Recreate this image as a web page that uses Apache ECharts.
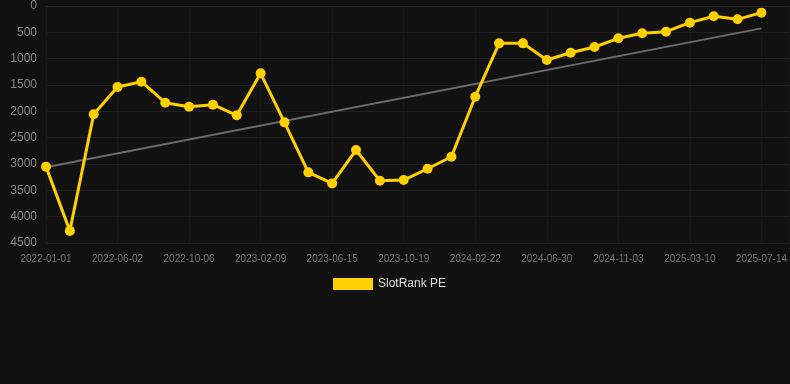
<!DOCTYPE html>
<html>
<head>
<meta charset="utf-8">
<script src="https://cdn.jsdelivr.net/npm/echarts@6/dist/echarts.min.js"></script>
<style>
html,body{margin:0;padding:0;background:#111111;}
#chart{width:790px;height:384px;}
</style>
</head>
<body>
<div id="chart"></div>
<script>
//日期
var dates = ['2022-01-01','2022-02-20','2022-04-12','2022-06-02','2022-07-14','2022-08-25','2022-10-06',
	'2022-11-17','2022-12-29','2023-02-09','2023-03-23','2023-05-04','2023-06-15','2023-07-27',
	'2023-09-07','2023-10-19','2023-11-30','2024-01-11','2024-02-22','2024-04-05','2024-05-18',
	'2024-06-30','2024-08-11','2024-09-22','2024-11-03','2024-12-15','2025-01-26','2025-03-10',
	'2025-04-21','2025-06-02','2025-07-14'];
//排名
var rankValues = [3050,4270,2057,1538,1437,1836,1912,1874,2076,1279,2209,3159,3368,2735,3317,3305,
	3090,2862,1722,709,709,1026,887,779,614,519,487,316,196,253,126];
//趋势线(首尾)
var trendStart = 3060, trendEnd = 425;
var yTicks = [0,500,1000,1500,2000,2500,3000,3500,4000,4500];

//组装数据 [序号, 值]
var rankData = [], trendData = [];
for(var i=0;i<rankValues.length;i++){
	rankData.push([i, rankValues[i]]);
}
trendData.push([0, trendStart]);
trendData.push([dates.length-1, trendEnd]);

var myChart = echarts.init(document.getElementById('chart'));
var option = {
	backgroundColor:'#111111',
	animation:false,
	grid:{left:46,right:0,top:6,bottom:141},
	legend:{
		bottom:89,
		left:328,
		itemWidth:40,
		itemHeight:12,
		data:[{name:'SlotRank PE',icon:'rect'}],
		textStyle:{color:'#dddddd',fontSize:12,fontFamily:'Arial, Liberation Sans, sans-serif'}
	},
	xAxis:{
		type:'value',
		min:0,
		max:31.17,
		interval:3,
		axisLine:{show:true,lineStyle:{color:'#262626'}},
		axisTick:{show:false},
		axisLabel:{
			color:'#777777',fontSize:10,margin:11,showMaxLabel:false,
			fontFamily:'Arial, Liberation Sans, sans-serif',
			formatter:function(v){ return dates[Math.round(v)] || ''; }
		},
		splitLine:{show:true,lineStyle:{color:'#181818'}}
	},
	yAxis:{
		type:'value',
		inverse:true,
		min:yTicks[0],
		max:yTicks[yTicks.length-1],
		interval:500,
		axisLine:{show:false},
		axisTick:{show:false},
		axisLabel:{color:'#8a8a8a',fontSize:12,margin:9,fontFamily:'Arial, Liberation Sans, sans-serif',
			formatter:function(v){ return String(v); }},
		splitLine:{lineStyle:{color:'#212121'}}
	},
	series:[
		{
			name:'trend',
			type:'line',
			data:trendData,
			symbol:'none',
			lineStyle:{color:'#6b6b6b',width:2},
			z:1
		},
		{
			name:'SlotRank PE',
			type:'line',
			data:rankData,
			symbol:'circle',
			symbolSize:10,
			itemStyle:{color:'#FFD000'},
			lineStyle:{color:'#FFD000',width:3},
			z:2
		}
	]
};
myChart.setOption(option);
</script>
</body>
</html>
